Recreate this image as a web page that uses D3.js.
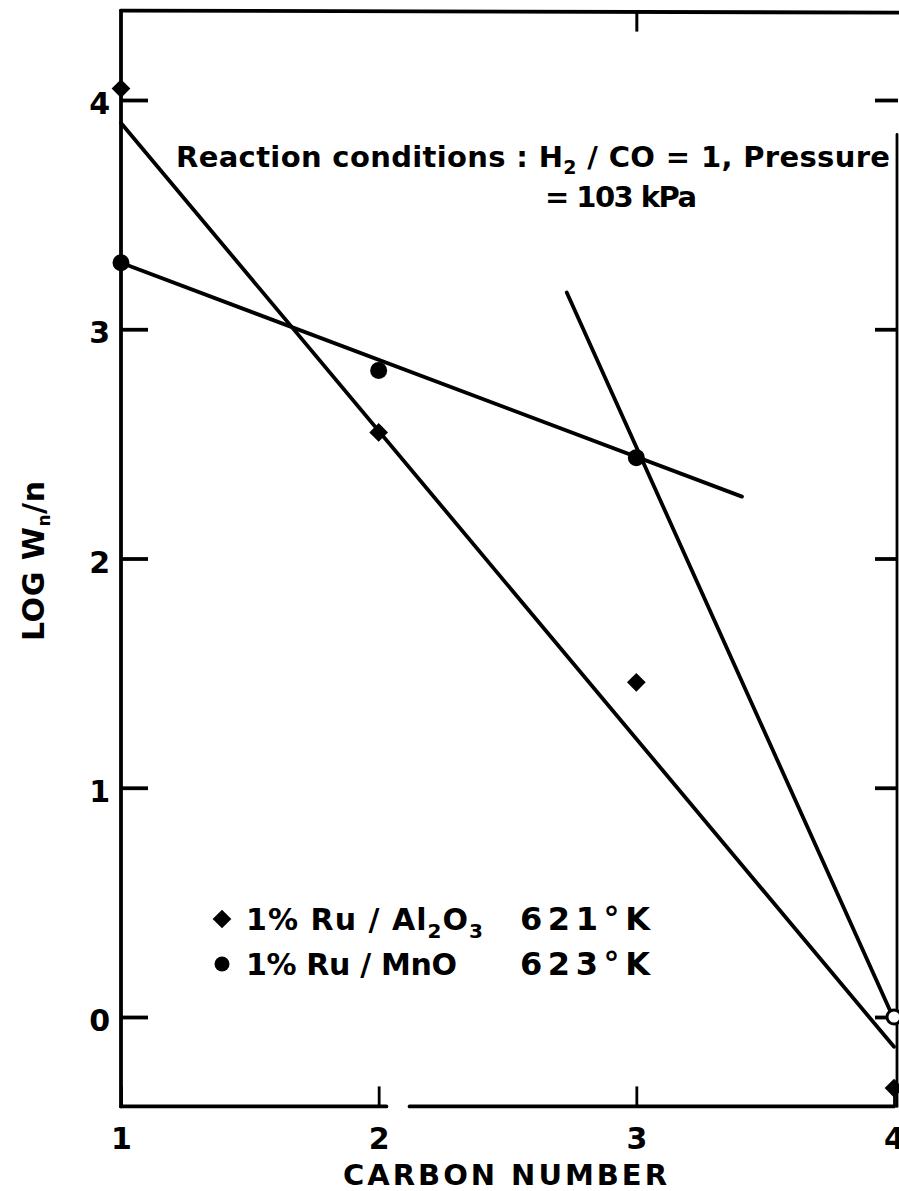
<!DOCTYPE html>
<html>
<head>
<meta charset="utf-8">
<script src="https://cdn.jsdelivr.net/npm/d3@7"></script>
<style>
  html, body { margin: 0; padding: 0; background: #fff; }
  svg { display: block; }
  text { font-family: "DejaVu Sans", "Liberation Sans", Arial, sans-serif; font-weight: bold; fill: #000; }
</style>
</head>
<body>
<svg id="chart" width="899" height="1191"></svg>
<script>
// ---- data ----
const carbonNumbers = [1, 2, 3, 4];
const ruAl2O3 = [4.05, 2.55, 1.46, -0.31];   // diamonds
const ruMnO = [3.29, 2.82, 2.44, 0.0];        // circles (last one open)
const fitAl2O3 = [[1, 3.90], [4, -0.13]];
const fitMnO = [[1, 3.29], [3.41, 2.27]];
const fitSteep = [[2.73, 3.16], [4, -0.01]];
const xTicks = [1, 2, 3, 4];
const yTicks = [0, 1, 2, 3, 4];
const topTicks = [3];
const yDomain = [-0.39, 4.39];
const legendLabels = ["1% Ru / Al", "1% Ru / MnO"];
const legendTemps = ["621°K", "623°K"];

// ---- scales ----
const svg = d3.select("#chart");
const x = d3.scaleLinear().domain([1, 4]).range([121, 894]);
const y = d3.scaleLinear().domain([0, 4]).range([1017, 100]);

const SW = 3.8;
const frame = svg.append("g").attr("stroke", "#000").attr("stroke-width", SW).attr("stroke-linecap", "round");
// left
frame.append("line").attr("x1", x(1)).attr("x2", x(1)).attr("y1", y(yDomain[1])).attr("y2", y(yDomain[0]));
// bottom (with small break as in the scan)
frame.append("line").attr("x1", x(1)).attr("x2", x(2.03)).attr("y1", y(yDomain[0])).attr("y2", y(yDomain[0]));
frame.append("line").attr("x1", x(2.12)).attr("x2", x(4)).attr("y1", y(yDomain[0])).attr("y2", y(yDomain[0]));
// top
frame.append("line").attr("x1", x(1)).attr("x2", 899).attr("y1", y(yDomain[1])).attr("y2", y(yDomain[1]) + 2);
// right
frame.append("line").attr("x1", x(4) + 3).attr("x2", x(4) + 3).attr("y1", y(3.85)).attr("y2", y(yDomain[0])).attr("stroke-width", 2.8);

// ---- axes ----
const yAxisL = d3.axisLeft(y).tickValues(yTicks).tickSizeInner(-27).tickSizeOuter(0).tickPadding(11)
  .tickFormat(d3.format("d"));
const gL = svg.append("g").attr("transform", `translate(${x(1)},0)`).call(yAxisL);
gL.select(".domain").remove();
gL.selectAll(".tick line").attr("stroke", "#000").attr("stroke-width", SW);
gL.selectAll(".tick text").attr("font-family", null).attr("font-size", null)
  .style("font-size", "30px").attr("dy", "0.45em");

const yAxisR = d3.axisRight(y).tickValues(yTicks).tickSizeInner(-23).tickSizeOuter(0).tickFormat("");
const gR = svg.append("g").attr("transform", `translate(${x(4) + 4},0)`).call(yAxisR);
gR.select(".domain").remove();
gR.selectAll(".tick line").attr("stroke", "#000").attr("stroke-width", SW);

const xAxisB = d3.axisBottom(x).tickValues(xTicks).tickSizeInner(-20).tickSizeOuter(0).tickPadding(21)
  .tickFormat(d3.format("d"));
const gB = svg.append("g").attr("transform", `translate(0,${y(yDomain[0])})`).call(xAxisB);
gB.select(".domain").remove();
gB.selectAll(".tick line").attr("stroke", "#000").attr("stroke-width", 2.8);
gB.selectAll(".tick text").attr("font-family", null).attr("font-size", null).style("font-size", "30px");

const xAxisT = d3.axisTop(x).tickValues(topTicks).tickSizeInner(-20).tickSizeOuter(0).tickFormat("");
const gT = svg.append("g").attr("transform", `translate(0,${y(yDomain[1]) + 1})`).call(xAxisT);
gT.select(".domain").remove();
gT.selectAll(".tick line").attr("stroke", "#000").attr("stroke-width", 3);

// ---- axis titles ----
svg.append("text").attr("x", 343).attr("y", 1185)
  .attr("textLength", 324).attr("lengthAdjust", "spacing")
  .style("font-size", "29px").text("CARBON NUMBER");
const yt = svg.append("text").attr("transform", "translate(44,641) rotate(-90)")
  .attr("textLength", 160).attr("lengthAdjust", "spacing")
  .style("font-size", "30px");
yt.append("tspan").text("LOG W");
yt.append("tspan").attr("dy", 6).style("font-size", "17px").text("n");
yt.append("tspan").attr("dy", -6).text("/n");

// ---- fit lines ----
const line = d3.line().x(d => x(d[0])).y(d => y(d[1]));
const lines = svg.append("g").attr("fill", "none").attr("stroke", "#000").attr("stroke-width", SW).attr("stroke-linecap", "round");
[fitAl2O3, fitMnO, fitSteep].forEach(f => lines.append("path").attr("d", line(f)));

// ---- points ----
const diamond = d3.symbol().type(d3.symbolSquare).size(175);
svg.append("g").selectAll("path").data(carbonNumbers.map((c, i) => [c, ruAl2O3[i]])).join("path")
  .attr("d", diamond)
  .attr("transform", d => `translate(${x(d[0])},${y(d[1])}) rotate(45)`)
  .attr("fill", "#000");
svg.append("g").selectAll("circle").data(carbonNumbers.map((c, i) => [c, ruMnO[i]])).join("circle")
  .attr("cx", d => x(d[0])).attr("cy", d => y(d[1])).attr("r", (d, i) => i === 3 ? 7 : 8.5)
  .attr("fill", (d, i) => i === 3 ? "#fff" : "#000")
  .attr("stroke", "#000").attr("stroke-width", (d, i) => i === 3 ? 3 : 0);

// ---- annotation ----
const ann = svg.append("text").attr("x", 176).attr("y", 167)
  .attr("textLength", 714).attr("lengthAdjust", "spacing").style("font-size", "29px");
ann.append("tspan").text("Reaction conditions : H");
ann.append("tspan").attr("dy", 7).style("font-size", "19px").text("2");
ann.append("tspan").attr("dy", -7).text(" / CO = 1, Pressure");
svg.append("text").attr("x", 545).attr("y", 207)
  .attr("textLength", 152).attr("lengthAdjust", "spacing").style("font-size", "29px").text("= 103 kPa");

// ---- legend ----
const leg = svg.append("g");
const rows = [930, 975];
leg.append("path").attr("d", diamond).attr("transform", `translate(222,${rows[0] - 11}) rotate(45)`).attr("fill", "#000");
leg.append("circle").attr("cx", 222).attr("cy", rows[1] - 11).attr("r", 7.5).attr("fill", "#000");
const t1 = leg.append("text").attr("x", 246).attr("y", rows[0])
  .attr("textLength", 237).attr("lengthAdjust", "spacing").style("font-size", "30px");
t1.append("tspan").text(legendLabels[0]);
t1.append("tspan").attr("dy", 8).style("font-size", "20px").text("2");
t1.append("tspan").attr("dy", -8).text("O");
t1.append("tspan").attr("dy", 8).style("font-size", "20px").text("3");
leg.append("text").attr("x", 246).attr("y", rows[1])
  .attr("textLength", 211).attr("lengthAdjust", "spacing").style("font-size", "30px").text(legendLabels[1]);
leg.append("text").attr("x", 520).attr("y", rows[0])
  .attr("textLength", 130).attr("lengthAdjust", "spacing").style("font-size", "32px").text(legendTemps[0]);
leg.append("text").attr("x", 520).attr("y", rows[1])
  .attr("textLength", 130).attr("lengthAdjust", "spacing").style("font-size", "32px").text(legendTemps[1]);
</script>
</body>
</html>
